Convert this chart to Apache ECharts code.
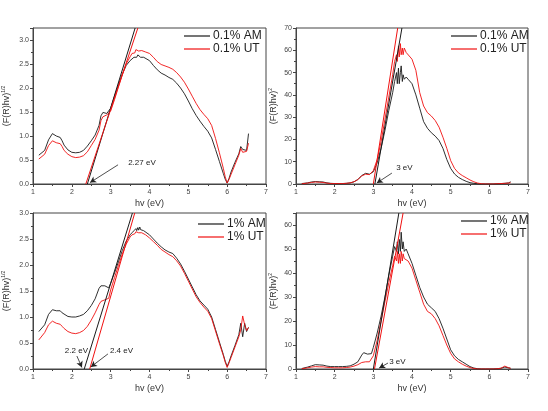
<!DOCTYPE html>
<html>
<head>
<meta charset="utf-8">
<script src="https://cdn.jsdelivr.net/npm/echarts@6/dist/echarts.min.js"></script>
<style>
  html, body { margin: 0; padding: 0; background: #fff; }
  #chart { width: 548px; height: 411px; }
</style>
</head>
<body>
<div id="chart"></div>
<script>
// photon energy hv (eV), shared by every curve
var hv = [
  1.15, 1.2, 1.3, 1.4, 1.5, 1.55, 1.6, 1.65, 1.7, 1.75,
  1.8, 1.9, 2.0, 2.1, 2.2, 2.3, 2.4, 2.5, 2.6, 2.7,
  2.75, 2.8, 2.85, 2.9, 2.95, 3.0, 3.1, 3.2, 3.3, 3.4,
  3.5, 3.55, 3.6, 3.62, 3.65, 3.67, 3.7, 3.72, 3.75, 3.77,
  3.8, 3.85, 3.9, 4.0, 4.1, 4.2, 4.3, 4.4, 4.5, 4.6,
  4.7, 4.8, 4.9, 5.0, 5.1, 5.2, 5.3, 5.4, 5.5, 5.6,
  5.7, 5.8, 5.9, 5.95, 6.0, 6.05, 6.1, 6.2, 6.3, 6.35,
  6.4, 6.45, 6.5, 6.55
];

// 0.1 %, (F(R)hv)^1/2
var am01Half = [
  0.60, 0.57, 0.70, 0.92, 1.05, 1.05, 1.00, 0.98, 0.97, 0.90,
  0.81, 0.71, 0.66, 0.65, 0.66, 0.70, 0.79, 0.90, 1.02, 1.22,
  1.42, 1.49, 1.48, 1.47, 1.48, 1.58, 1.83, 2.07, 2.29, 2.47,
  2.57, 2.61, 2.64, 2.63, 2.68, 2.64, 2.69, 2.65, 2.66, 2.64,
  2.66, 2.64, 2.62, 2.57, 2.47, 2.38, 2.31, 2.27, 2.22, 2.18,
  2.10, 2.00, 1.88, 1.73, 1.57, 1.43, 1.31, 1.20, 1.10, 0.96,
  0.72, 0.47, 0.22, 0.10, 0.02, 0.12, 0.25, 0.45, 0.63, 0.78,
  0.72, 0.76, 0.70, 1.05
];
var ut01Half = [
  0.52, 0.50, 0.62, 0.80, 0.90, 0.89, 0.86, 0.86, 0.84, 0.78,
  0.70, 0.62, 0.57, 0.55, 0.56, 0.59, 0.67, 0.80, 0.93, 1.12,
  1.32, 1.40, 1.43, 1.44, 1.46, 1.52, 1.76, 2.02, 2.27, 2.50,
  2.65, 2.72, 2.75, 2.73, 2.80, 2.76, 2.81, 2.77, 2.79, 2.76,
  2.78, 2.77, 2.75, 2.72, 2.64, 2.55, 2.49, 2.46, 2.43, 2.39,
  2.32, 2.23, 2.12, 1.98, 1.83, 1.68, 1.55, 1.45, 1.36, 1.22,
  0.95, 0.65, 0.33, 0.15, 0.02, 0.10, 0.20, 0.40, 0.60, 0.74,
  0.66, 0.70, 0.68, 0.85
];

// 0.1 %, (F(R)hv)^2
var am01Sq = [
  0.2, 0.3, 0.5, 0.9, 1.1, 1.1, 1.0, 0.9, 0.9, 0.7,
  0.5, 0.3, 0.2, 0.2, 0.2, 0.3, 0.5, 1.0, 2.0, 3.8,
  4.6, 4.8, 4.5, 4.4, 4.6, 5.5, 9.5, 16, 24, 33,
  41, 46, 50, 45, 52, 45, 50, 53, 46, 49,
  47, 48, 47, 45, 40, 34, 28, 25, 23, 21.5,
  19.5, 16, 11, 7, 4.5, 3, 2, 1.2, 0.6, 0.3,
  0.1, 0, 0, 0, 0, 0, 0, 0.1, 0.2, 0.2,
  0.3, 0.4, 0.5, 1.0
];
var ut01Sq = [
  0.1, 0.2, 0.4, 0.7, 0.9, 0.9, 0.8, 0.8, 0.7, 0.6,
  0.4, 0.2, 0.2, 0.2, 0.2, 0.3, 0.5, 1.0, 2.0, 3.6,
  4.3, 4.4, 4.3, 4.2, 4.5, 6, 11, 19, 29, 39,
  49, 55, 58, 55, 62, 57, 63, 58, 61, 58,
  61, 59, 59, 56, 51, 41, 35, 32, 30.5, 28.5,
  25.5, 21, 16, 10.5, 7, 5, 3.8, 2.8, 1.8, 1.0,
  0.4, 0.1, 0, 0, 0, 0, 0, 0.1, 0.2, 0.2,
  0.3, 0.3, 0.4, 0.6
];

// 1 %, (F(R)hv)^1/2
var am1Half = [
  0.72, 0.73, 0.85, 1.05, 1.14, 1.14, 1.12, 1.14, 1.12, 1.08,
  1.05, 1.01, 1.00, 1.00, 1.02, 1.05, 1.12, 1.22, 1.35, 1.55,
  1.60, 1.62, 1.60, 1.57, 1.56, 1.65, 1.85, 2.06, 2.28, 2.46,
  2.58, 2.62, 2.66, 2.64, 2.70, 2.66, 2.72, 2.67, 2.73, 2.68,
  2.69, 2.66, 2.63, 2.58, 2.50, 2.42, 2.35, 2.29, 2.25, 2.22,
  2.13, 2.02, 1.88, 1.73, 1.58, 1.43, 1.31, 1.23, 1.15, 1.00,
  0.76, 0.52, 0.28, 0.15, 0.05, 0.14, 0.25, 0.45, 0.66, 0.88,
  0.62, 0.88, 0.72, 0.80
];
var ut1Half = [
  0.56, 0.56, 0.70, 0.85, 0.92, 0.91, 0.88, 0.90, 0.86, 0.82,
  0.78, 0.72, 0.69, 0.68, 0.70, 0.74, 0.82, 0.94, 1.08, 1.24,
  1.30, 1.32, 1.33, 1.33, 1.36, 1.52, 1.76, 1.99, 2.21, 2.40,
  2.54, 2.58, 2.61, 2.60, 2.64, 2.61, 2.65, 2.62, 2.64, 2.62,
  2.62, 2.60, 2.58, 2.52, 2.45, 2.38, 2.30, 2.25, 2.20, 2.16,
  2.08, 1.98, 1.84, 1.69, 1.54, 1.39, 1.28, 1.19, 1.11, 0.97,
  0.73, 0.49, 0.26, 0.13, 0.03, 0.12, 0.22, 0.42, 0.62, 0.75,
  1.02, 0.85, 0.74, 0.80
];

// 1 %, (F(R)hv)^2
var am1Sq = [
  0.2, 0.4, 0.8, 1.3, 1.8, 1.8, 1.7, 1.7, 1.6, 1.4,
  1.2, 1.0, 1.0, 1.0, 1.0, 1.1, 1.3, 2.0, 3.0, 5.8,
  6.8, 6.7, 6.2, 6.0, 6.4, 9, 15, 22, 30, 39,
  47, 51, 49, 53, 48, 54, 49, 57, 50, 53,
  49, 50, 48, 44, 39, 34, 30, 27, 25.5, 24,
  21, 17, 12.5, 8, 5.5, 4, 3, 2, 1, 0.4,
  0.1, 0, 0, 0, 0, 0, 0, 0.1, 0.3, 0.5,
  0.8, 0.7, 0.5, 0.3
];
var ut1Sq = [
  0.1, 0.2, 0.5, 0.8, 1.0, 1.0, 0.9, 0.9, 0.9, 0.8,
  0.7, 0.6, 0.5, 0.5, 0.5, 0.6, 0.8, 1.2, 1.8, 2.7,
  3.0, 3.0, 3.0, 3.0, 3.3, 5.5, 12, 20, 28, 36,
  43, 47, 45, 49, 44, 48, 44, 49, 45, 48,
  46, 46, 45, 42, 37, 32, 27, 24, 23, 21,
  18, 14, 10, 6.5, 4.2, 3, 2, 1.2, 0.6, 0.2,
  0, 0, 0, 0, 0, 0, 0, 0.1, 0.3, 0.6,
  1.2, 0.8, 0.5, 0.3
];

// Tauc tangent lines [hv, value]
var fitAm01Half = [[2.40, 0], [3.63, 3.25]];
var fitUt01Half = [[2.36, 0], [3.70, 3.25]];
var fitAm01Sq = [[3.04, 0], [3.74, 70]];
var fitUt01Sq = [[3.00, 0], [3.63, 70]];
var fitAm1Half = [[2.32, 0], [3.56, 3]];
var fitUt1Half = [[2.46, 0], [3.62, 3]];
var fitAm1Sq = [[3.00, 0], [3.66, 65]];
var fitUt1Sq = [[3.03, 0], [3.77, 65]];

// band gap notes: arrow [from, to], text anchor
var arrow01Half = [[3.19, 0.40], [2.47, 0.03]];
var arrow01Sq = [[3.48, 4.9], [3.09, 0.45]];
var arrow1HalfA = [[2.13, 0.25], [2.26, 0.03]];
var arrow1HalfB = [[2.93, 0.29], [2.49, 0.04]];
var arrow1Sq = [[3.38, 2.5], [3.15, 0.4]];
var notes = [
  { grid: 0, at: [3.45, 0.44], text: '2.27 eV' },
  { grid: 1, at: [3.59, 7.2], text: '3 eV' },
  { grid: 2, at: [1.82, 0.35], text: '2.2 eV' },
  { grid: 2, at: [2.98, 0.35], text: '2.4 eV' },
  { grid: 3, at: [3.41, 2.9], text: '3 eV' }
];

var BLACK = '#1a1a1a';
var RED = '#f01010';
var FONT = 'Liberation Sans, Arial, sans-serif';

function pairs(xs, ys) {
  return xs.map(function(x, i) {
    return [x, ys[i]];
  });
}

var grids = [
  { left: 33, top: 28, width: 233, height: 156 },
  { left: 296, top: 28, width: 232, height: 156 },
  { left: 33, top: 213, width: 233, height: 156 },
  { left: 296, top: 213, width: 232, height: 156 }
];

var xAxes = grids.map(function(g, i) {
  return {
    type: 'value',
    gridIndex: i,
    min: 1,
    max: 7,
    interval: 1,
    name: 'hv (eV)',
    nameLocation: 'middle',
    nameGap: 15,
    nameTextStyle: { fontSize: 9, color: '#333', fontFamily: FONT },
    axisLine: { lineStyle: { color: '#444', width: 1 } },
    axisTick: { length: 3, lineStyle: { color: '#444' } },
    minorTick: { show: true, splitNumber: 2, length: 2, lineStyle: { color: '#444' } },
    axisLabel: { fontSize: 7, color: '#444', margin: 5, fontFamily: FONT },
    splitLine: { show: false }
  };
});

function yAxis(i, max, interval, digits, sup) {
  return {
    type: 'value',
    gridIndex: i,
    min: 0,
    max: max,
    interval: interval,
    name: '{b|(F(R)hv)}{s|' + sup + '}',
    nameLocation: 'middle',
    nameGap: digits ? 20 : 16,
    nameTextStyle: {
      color: '#333',
      fontFamily: FONT,
      rich: {
        b: { fontSize: 9, color: '#333', fontFamily: FONT },
        s: { fontSize: 5, color: '#333', fontFamily: FONT, padding: [0, 0, 7, 0] }
      }
    },
    axisLine: { show: true, lineStyle: { color: '#444', width: 1 } },
    axisTick: { show: true, length: 3, lineStyle: { color: '#444' } },
    minorTick: { show: true, splitNumber: 2, length: 2, lineStyle: { color: '#444' } },
    axisLabel: {
      fontSize: 7,
      color: '#444',
      margin: 4,
      fontFamily: FONT,
      formatter: function(v) {
        var k = v / interval;
        if (Math.abs(k - Math.round(k)) > 1e-6) return '';
        return v.toFixed(digits);
      }
    },
    splitLine: { show: false }
  };
}

var yAxes = [
  yAxis(0, 3.25, 0.5, 1, '1/2'),
  yAxis(1, 70, 10, 0, '2'),
  yAxis(2, 3, 0.5, 1, '1/2'),
  yAxis(3, 65, 10, 0, '2')
];

function curve(name, i, ys, color) {
  return {
    type: 'line',
    name: name,
    xAxisIndex: i,
    yAxisIndex: i,
    data: pairs(hv, ys),
    showSymbol: false,
    symbol: 'none',
    lineStyle: { color: color, width: 0.9 },
    itemStyle: { color: color },
    z: 3
  };
}

function fit(i, pts, color) {
  return {
    type: 'line',
    name: 'fit' + i + color,
    xAxisIndex: i,
    yAxisIndex: i,
    data: pts,
    symbol: 'none',
    clip: true,
    lineStyle: { color: color, width: 1 },
    z: 4
  };
}

function arrows(i, list) {
  return {
    type: 'line',
    name: 'arrow' + i,
    xAxisIndex: i,
    yAxisIndex: i,
    data: [],
    markLine: {
      silent: true,
      symbol: ['none', 'arrow'],
      symbolSize: [5, 6],
      label: { show: false },
      lineStyle: { color: '#222', width: 0.8, type: 'solid' },
      data: list.map(function(a) {
        return [{ coord: a[0] }, { coord: a[1] }];
      })
    },
    markPoint: {
      silent: true,
      symbol: 'circle',
      symbolSize: 0,
      label: {
        show: true,
        position: 'right',
        distance: 0,
        fontSize: 8,
        color: '#222',
        fontFamily: FONT,
        formatter: function(p) {
          return p.name;
        }
      },
      data: notes.filter(function(n) {
        return n.grid === i;
      }).map(function(n) {
        return { name: n.text, coord: n.at };
      })
    },
    z: 5
  };
}

function legend(left, top, names) {
  return {
    left: left,
    top: top,
    orient: 'vertical',
    icon: 'rect',
    itemWidth: 26,
    itemHeight: 1.2,
    itemGap: 1,
    padding: 0,
    selectedMode: false,
    textStyle: { fontSize: 12, color: '#222', fontFamily: FONT, padding: [0, 0, 0, -2] },
    data: names
  };
}

var chart = echarts.init(document.getElementById('chart'), null, { renderer: 'canvas' });

chart.setOption({
  animation: false,
  backgroundColor: '#fff',
  grid: grids.map(function(g) {
    return Object.assign({ show: true, borderColor: '#444', borderWidth: 1, backgroundColor: 'transparent' }, g);
  }),
  xAxis: xAxes,
  yAxis: yAxes,
  legend: [
    legend(184, 30, ['0.1% AM', '0.1% UT']),
    legend(451, 30, ['0.1% AM', '0.1% UT']),
    legend(198, 218, ['1% AM', '1% UT']),
    legend(461, 215, ['1% AM', '1% UT'])
  ],
  series: [
    curve('0.1% AM', 0, am01Half, BLACK),
    curve('0.1% UT', 0, ut01Half, RED),
    fit(0, fitAm01Half, BLACK),
    fit(0, fitUt01Half, RED),
    arrows(0, [arrow01Half]),

    curve('0.1% AM', 1, am01Sq, BLACK),
    curve('0.1% UT', 1, ut01Sq, RED),
    fit(1, fitAm01Sq, BLACK),
    fit(1, fitUt01Sq, RED),
    arrows(1, [arrow01Sq]),

    curve('1% AM', 2, am1Half, BLACK),
    curve('1% UT', 2, ut1Half, RED),
    fit(2, fitAm1Half, BLACK),
    fit(2, fitUt1Half, RED),
    arrows(2, [arrow1HalfA, arrow1HalfB]),

    curve('1% AM', 3, am1Sq, BLACK),
    curve('1% UT', 3, ut1Sq, RED),
    fit(3, fitAm1Sq, BLACK),
    fit(3, fitUt1Sq, RED),
    arrows(3, [arrow1Sq])
  ]
});
</script>
</body>
</html>
